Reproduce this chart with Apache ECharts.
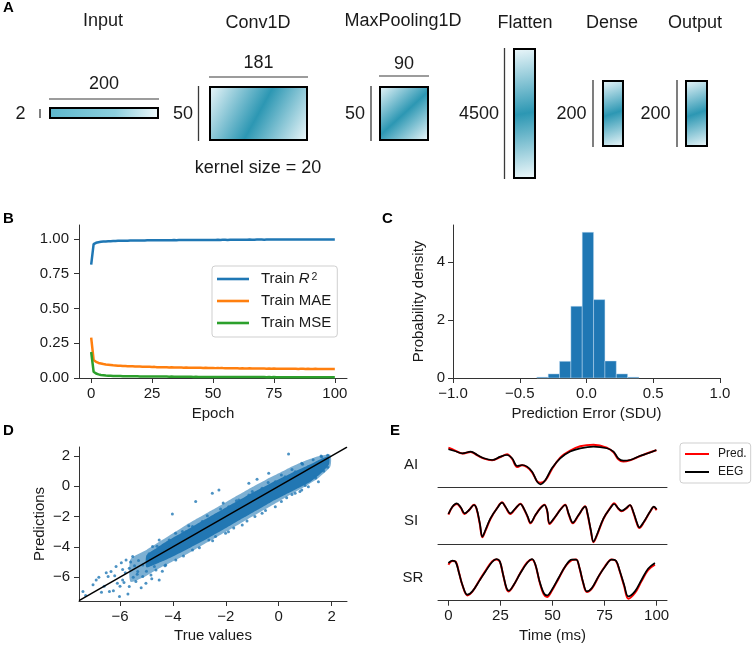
<!DOCTYPE html>
<html><head><meta charset="utf-8">
<script src="https://cdn.jsdelivr.net/npm/echarts@6/dist/echarts.min.js"></script>
<style>html,body{margin:0;padding:0;background:#fff}#c{width:754px;height:646px}</style>
</head><body><div id="c"></div>
<script>
// ---------------- DATA ----------------
// Panel A: network architecture
const layerNames = ['Input', 'Conv1D', 'MaxPooling1D', 'Flatten', 'Dense', 'Output'];
const layerWidthDims = ['200', '181', '90'];
const layerHeightDims = ['2', '50', '50', '4500', '200', '200'];
const kernelNote = 'kernel size = 20';

// Panel B: training curves (epoch = index 0..100)
const trainR2 = [
0.815,0.962,0.972,0.976,0.979,0.981,0.982,0.983,0.984,0.985,
0.985,0.986,0.986,0.987,0.987,0.987,0.988,0.988,0.988,0.989,
0.989,0.989,0.989,0.990,0.990,0.990,0.990,0.990,0.991,0.991,
0.991,0.991,0.991,0.991,0.992,0.991,0.992,0.992,0.992,0.992,
0.992,0.992,0.993,0.992,0.993,0.993,0.993,0.993,0.993,0.993,
0.993,0.993,0.994,0.993,0.994,0.994,0.993,0.994,0.994,0.994,
0.994,0.994,0.994,0.994,0.994,0.995,0.994,0.994,0.995,0.995,
0.995,0.994,0.995,0.995,0.995,0.995,0.995,0.995,0.995,0.995,
0.995,0.995,0.995,0.996,0.995,0.995,0.995,0.996,0.995,0.996,
0.995,0.996,0.996,0.995,0.996,0.996,0.996,0.996,0.996,0.996,0.996];
const trainMAE = [
0.290,0.130,0.116,0.108,0.104,0.100,0.097,0.095,0.093,0.091,
0.090,0.088,0.088,0.086,0.086,0.085,0.084,0.084,0.083,0.082,
0.082,0.081,0.081,0.080,0.080,0.079,0.080,0.078,0.078,0.078,
0.077,0.077,0.076,0.077,0.076,0.075,0.076,0.075,0.074,0.075,
0.074,0.074,0.073,0.074,0.073,0.073,0.072,0.073,0.072,0.072,
0.072,0.071,0.072,0.071,0.071,0.070,0.071,0.070,0.070,0.071,
0.070,0.069,0.070,0.069,0.069,0.070,0.068,0.069,0.068,0.069,
0.068,0.068,0.067,0.068,0.067,0.068,0.067,0.067,0.066,0.067,
0.067,0.066,0.066,0.067,0.066,0.065,0.066,0.066,0.065,0.066,
0.065,0.065,0.066,0.064,0.065,0.065,0.064,0.065,0.064,0.065,0.065];
const trainMSE = [
0.187,0.045,0.032,0.026,0.022,0.020,0.018,0.017,0.016,0.015,
0.015,0.014,0.014,0.013,0.013,0.013,0.012,0.012,0.012,0.012,
0.011,0.011,0.011,0.011,0.011,0.010,0.010,0.010,0.010,0.010,
0.010,0.010,0.009,0.010,0.009,0.009,0.009,0.009,0.009,0.009,
0.009,0.009,0.008,0.009,0.008,0.008,0.008,0.008,0.008,0.008,
0.008,0.008,0.008,0.008,0.008,0.007,0.008,0.007,0.007,0.007,
0.007,0.007,0.007,0.007,0.007,0.007,0.007,0.007,0.007,0.007,
0.007,0.007,0.006,0.007,0.006,0.007,0.006,0.006,0.006,0.006,
0.006,0.006,0.006,0.006,0.006,0.006,0.006,0.006,0.006,0.006,
0.006,0.006,0.006,0.006,0.006,0.006,0.006,0.006,0.006,0.006,0.006];
const epochTicks = [0, 25, 50, 75, 100];
const r2Ticks = [0, 0.25, 0.5, 0.75, 1.0];

// Panel C: histogram of prediction error
const binEdges = [-0.372,-0.287,-0.202,-0.117,-0.032,0.053,0.138,0.223,0.308,0.393];
const binDensity = [0.03,0.14,0.575,2.47,5.02,2.70,0.585,0.14,0.03];
const errTicks = [-1.0, -0.5, 0.0, 0.5, 1.0];
const densTicks = [0, 2, 4];

// Panel D: predictions vs true values (dense core band, sparser fringe, individual points)
const coreX      = [-5.0,-4.6,-4.2,-3.8,-3.3,-2.8,-2.3,-1.8,-1.3,-0.8,-0.3,0.2,0.7,1.2,1.6,1.9];
const coreUpper  = [-4.55,-4.05,-3.6,-3.2,-2.7,-2.2,-1.7,-1.2,-0.72,-0.25,0.2,0.62,1.05,1.45,1.8,1.95];
const coreLower  = [-5.35,-5.1,-4.8,-4.45,-4.0,-3.55,-3.05,-2.55,-2.05,-1.55,-1.05,-0.6,-0.15,0.3,0.85,1.45];
const fringeX     = [-5.6,-5.0,-4.5,-4.0,-3.5,-3.0,-2.5,-2.0,-1.5,-1.0,-0.5,0.0,0.5,1.0,1.5,1.95];
const fringeUpper = [-4.8,-4.2,-3.65,-3.1,-2.55,-2.05,-1.55,-1.05,-0.55,-0.05,0.42,0.85,1.3,1.68,1.98,2.08];
const fringeLower = [-6.3,-5.9,-5.4,-4.95,-4.5,-4.0,-3.5,-3.0,-2.5,-2.0,-1.5,-1.0,-0.5,0.0,0.55,1.3];
const scatterPts = [
[0.37,2.13],[-2.51,-0.46],[-3.14,-1.01],[-4.02,-1.83],[-2.26,-0.24],[-1.13,0.2],[-0.82,0.46],[-0.38,0.86],
[0.87,1.52],[1.62,1.95],[-7.4,-6.95],[-7.02,-6.5],[-6.4,-6.95],[-6.02,-7.28],[-6.34,-5.63],[-6.45,-5.95],
[-5.9,-6.18],[-5.65,-6.62],[-5.4,-6.29],[-6.15,-5.3],[-5.77,-4.86],[-5.65,-5.41],[-5.33,-5.63],[-5.14,-5.96],
[-5.02,-6.4],[-4.83,-5.85],[-5.14,-5.19],[-4.64,-5.52],[-5.52,-4.64],[-6.52,-5.7],[-6.9,-6.18],[-4.52,-6.18],
[-4.27,-5.19],[-3.89,-4.86],[0.87,-0.24],[1.37,0.63],[1.62,1.08],[-0.13,-1.35],[-0.63,-1.78],[-1.38,-2.55],
[-2.01,-3.1],[-2.64,-3.54],[-3.26,-4.2],[-2.39,-3.32],[0.62,-0.46],[1.12,-0.03],[-3.64,-2.99],[-3.26,-2.66],
[-2.89,-2.33],[-1.89,-1.35],[-1.51,-0.9],[-1.13,-0.57],[-0.63,-0.13],[-0.13,0.3],[0.24,0.63],[0.62,0.96],
[1.12,1.29],[-4.52,-3.54],[-4.77,-3.98],[-4.14,-3.54],[-4.3,-5.25],[-3.6,-4.6],[-3.0,-4.05],[-2.5,-3.6],
[-1.9,-3.0],[-1.2,-2.3],[-0.5,-1.6],[0.1,-1.0],[0.5,-0.55],[1.0,0.05],[1.4,0.55],[1.7,1.0],[1.85,1.25],
[-4.6,-3.95],[-3.9,-3.1],[-3.4,-2.6],[-2.7,-1.95],[-2.2,-1.5],[-1.6,-0.95],[-1.0,-0.35],[-0.4,0.25],
[0.1,0.75],[0.5,1.1],[0.9,1.45],[1.3,1.75],[1.6,2.0],[1.85,2.05],[-5.6,-5.0],[-5.9,-5.5],[-6.1,-6.4],
[-4.9,-4.45],[-3.5,-3.0],[-2.1,-1.1],[-1.7,-2.75],[-0.9,-2.0],[0.3,-0.75],[0.8,-0.35],[1.5,0.3],
[-6.2,-5.9],[-5.8,-5.7],[-5.5,-6.0],[-5.3,-4.9],[-5.0,-5.6],[-4.8,-6.1],[-4.6,-4.9],[-4.4,-5.6],
[-6.6,-6.6],[-6.8,-6.0],[-5.95,-5.05],[-5.45,-5.25],[-4.95,-4.75],[-6.25,-6.9],[-5.7,-7.1],[-4.7,-5.3],
[-5.2,-6.7],[-6.0,-6.6],[-7.3,-7.2],[-6.7,-7.0],[-5.85,-6.35],[-5.35,-5.8]];
const identityLine = [-7.55, 2.58];
const predTicks = [-6, -4, -2, 0, 2];

// Panel E: example traces, [time (ms), amplitude]
const timeTicks = [0, 25, 50, 75, 100];
const aiEEG = [[0,3.80],[3,3.63],[6.7,3.40],[10.7,3.57],[13.9,3.23],[17.1,2.90],[21,2.73],[25,3.07],[28.2,3.23],[30.6,2.90],[33,2.13],[35.4,2.23],[37.8,2.07],[40.2,1.57],[42.6,0.57],[44.2,0.30],[46.6,0.73],[49.7,1.90],[53.7,2.90],[58.5,3.57],[63.3,3.90],[69.7,4.07],[76.1,3.90],[79.3,3.57],[81.6,2.90],[84.0,2.67],[87.2,2.73],[91.9,3.13],[95.9,3.40],[99.9,3.73]];
const aiPred = [[0,3.97],[3,3.70],[6.7,3.37],[10.7,3.53],[13.9,3.20],[17.1,2.87],[21,2.70],[25,3.03],[28.2,3.30],[30.6,2.83],[33,2.03],[35.4,2.20],[37.8,2.00],[40.2,1.50],[42.6,0.60],[44.2,0.45],[46.6,0.70],[49.7,1.80],[53.7,2.97],[58.5,3.67],[63.3,4.10],[69.7,4.25],[76.1,3.97],[79.3,3.50],[81.6,2.80],[84.0,2.57],[87.2,2.70],[91.9,3.10],[95.9,3.43],[99.9,3.70]];
const siEEG = [[0,3.00],[1.9,3.73],[4.0,4.07],[5.9,3.67],[7.8,3.07],[9.9,3.40],[12.3,3.90],[13.5,3.57],[15.1,2.07],[16.3,0.73],[17.8,1.40],[20.2,2.57],[23.4,3.57],[25.8,4.13],[27.4,3.73],[29.8,3.07],[32.2,3.57],[34.6,4.00],[36.2,3.57],[38.1,2.73],[39.4,2.13],[41.8,2.90],[44.2,3.57],[46.1,3.90],[47.4,3.40],[48.6,2.07],[51.3,2.73],[53.7,3.40],[56.1,3.90],[57.7,3.07],[59.8,2.13],[62.5,2.90],[65.7,3.73],[66.8,3.07],[68.4,1.40],[69.7,0.23],[71.3,0.90],[74.5,2.57],[77.7,3.57],[79.6,4.00],[81.6,3.57],[83.2,3.33],[85.3,3.57],[87.2,3.90],[88.8,3.23],[90.4,2.23],[91.7,1.67],[93.9,2.23],[96.8,3.23],[98.7,3.73],[100,3.47]];
const siPred = [[0,2.93],[1.9,3.70],[4.0,4.00],[5.9,3.63],[7.8,3.00],[9.9,3.37],[12.3,3.93],[13.5,3.53],[15.1,1.97],[16.3,0.67],[17.8,1.33],[20.2,2.50],[23.4,3.60],[25.8,4.17],[27.4,3.70],[29.8,3.00],[32.2,3.53],[34.6,4.03],[36.2,3.53],[38.1,2.67],[39.4,2.07],[41.8,2.87],[44.2,3.60],[46.1,3.93],[47.4,3.33],[48.6,2.00],[51.3,2.70],[53.7,3.43],[56.1,3.93],[57.7,3.00],[59.8,2.07],[62.5,2.87],[65.7,3.77],[66.8,3.00],[68.4,1.33],[69.7,0.17],[71.3,0.83],[74.5,2.53],[77.7,3.60],[79.6,4.07],[81.6,3.53],[83.2,3.27],[85.3,3.53],[87.2,3.87],[88.8,3.17],[90.4,2.13],[91.7,1.60],[93.9,2.17],[96.8,3.20],[98.7,3.70],[100,3.37]];
const srEEG = [[0,3.77],[1.9,4.00],[3.5,3.87],[5.1,2.77],[6.7,1.60],[9.1,0.60],[11.5,0.93],[14.7,1.93],[17.8,2.93],[21.0,3.87],[23.1,4.17],[24.7,3.93],[26.3,2.60],[27.9,1.27],[29.0,1.00],[31.4,1.60],[34.6,2.77],[37.8,3.77],[40.2,4.17],[41.8,3.60],[43.8,1.93],[45.8,0.77],[47.4,0.53],[49.7,1.10],[52.9,2.27],[56.1,3.43],[59.3,4.10],[61.4,4.10],[63.0,3.27],[64.6,1.93],[66.5,0.93],[68.9,1.27],[72.1,2.43],[75.3,3.43],[78.4,4.10],[80.5,4.00],[82.4,2.93],[84.4,1.60],[86.4,0.43],[89.6,0.93],[92.8,2.10],[95.9,3.20],[99.2,3.77]];
const srPred = [[0,3.60],[1.9,3.97],[3.5,3.90],[5.1,2.80],[6.7,1.57],[9.1,0.53],[11.5,0.90],[14.7,1.97],[17.8,3.00],[21.0,3.93],[23.1,4.13],[24.7,3.90],[26.3,2.57],[27.9,1.20],[29.0,0.93],[31.4,1.57],[34.6,2.80],[37.8,3.83],[40.2,4.13],[41.8,3.57],[43.8,1.87],[45.8,0.63],[47.4,0.37],[49.7,1.00],[52.9,2.20],[56.1,3.40],[59.3,4.07],[61.4,4.13],[63.0,3.23],[64.6,1.87],[66.5,0.87],[68.9,1.20],[72.1,2.40],[75.3,3.47],[78.4,4.13],[80.5,3.97],[82.4,2.87],[84.4,1.47],[86.4,0.20],[89.6,0.77],[92.8,1.97],[95.9,3.07],[99.2,3.60]];
const rowNames = ['AI', 'SI', 'SR'];

// ---------------- LAYOUT / STYLE ----------------
const FONT = '"Liberation Sans", Arial, Helvetica, sans-serif';
const TXT = '#1a1a1a';
const SPINE = '#333';
const boxLayout = [[50,108,108,10],[210,87,97,53],[380,87,48,53],[514,49,21,129],[603,81,20,65],[686,81,21,65]];
const titleLayout = [[103,21],[258,23],[403,21],[525,23],[612,23],[695,23]];
const widthLineLayout = [[99,84.5],[77,63],[76,64.5]];
const heightLineLayout = [[40,109,118,20.5],[198.5,86,141,183],[371,86,141,355],[504.5,48,179,479],[593,80,147,571.5],[677,80,147,655.5]];

const minus = s => String(s).replace('-', '\u2212');

function xAxisCfg(grid, min, max, ticks, fmt, name, gap, show) {
  return {
    type: 'value', gridIndex: grid, min: min, max: max,
    axisLine: {show: true, onZero: false, lineStyle: {color: SPINE, width: 1}},
    axisTick: {show: show, length: 5, lineStyle: {color: SPINE, width: 1}, customValues: ticks},
    axisLabel: {show: show, customValues: ticks, formatter: fmt, fontSize: 15, fontFamily: FONT, color: TXT, margin: 8},
    splitLine: {show: false},
    name: name, nameLocation: 'middle', nameGap: gap,
    nameTextStyle: {fontSize: 15, fontFamily: FONT, color: TXT}
  };
}
function yAxisCfg(grid, min, max, ticks, fmt, name, gap, margin) {
  return {
    type: 'value', gridIndex: grid, min: min, max: max,
    axisLine: {show: true, onZero: false, lineStyle: {color: SPINE, width: 1}},
    axisTick: {show: true, length: 5, lineStyle: {color: SPINE, width: 1}, customValues: ticks},
    axisLabel: {customValues: ticks, formatter: fmt, fontSize: 15, fontFamily: FONT, color: TXT, margin: margin},
    splitLine: {show: false},
    name: name, nameLocation: 'middle', nameGap: gap,
    nameTextStyle: {fontSize: 15, fontFamily: FONT, color: TXT}
  };
}

// Panel A graphics
const graphics = [];
const gradFill = () => ({type: 'linear', x: 0, y: 0, x2: 1, y2: 1, colorStops: [
  {offset: 0, color: '#eef8fb'}, {offset: 0.5, color: '#2c97b3'}, {offset: 1, color: '#f2fafc'}]});
const inputFill = () => ({type: 'linear', x: 0, y: 0, x2: 1, y2: 1, colorStops: [
  {offset: 0, color: '#5db7cc'}, {offset: 0.6, color: '#8ccfdd'}, {offset: 1, color: '#f2fafc'}]});
layerNames.forEach((nm, i) => {
  const b = boxLayout[i];
  graphics.push({type: 'text', x: titleLayout[i][0], y: titleLayout[i][1],
    style: {text: nm, fontSize: 18, fontFamily: FONT, fill: TXT, align: 'center', verticalAlign: 'middle'}});
  graphics.push({type: 'rect', shape: {x: b[0], y: b[1], width: b[2], height: b[3]},
    style: {fill: i === 0 ? inputFill() : gradFill(), stroke: '#000', lineWidth: 2}});
  const h = heightLineLayout[i];
  graphics.push({type: 'line', shape: {x1: h[0], y1: h[1], x2: h[0], y2: h[2]}, style: {stroke: '#3a3a3a', lineWidth: 1.3}});
  graphics.push({type: 'text', x: h[3], y: 114,
    style: {text: layerHeightDims[i], fontSize: 18, fontFamily: FONT, fill: TXT, align: 'center', verticalAlign: 'middle'}});
  if (i < layerWidthDims.length) {
    const w = widthLineLayout[i];
    graphics.push({type: 'line', shape: {x1: b[0] - 1, y1: w[0], x2: b[0] + b[2] + 1, y2: w[0]}, style: {stroke: '#3a3a3a', lineWidth: 1.2}});
    graphics.push({type: 'text', x: b[0] + b[2] / 2, y: w[1],
      style: {text: layerWidthDims[i], fontSize: 18, fontFamily: FONT, fill: TXT, align: 'center', verticalAlign: 'middle'}});
  }
});
graphics.push({type: 'text', x: 258, y: 168.5,
  style: {text: kernelNote, fontSize: 18, fontFamily: FONT, fill: TXT, align: 'center', verticalAlign: 'middle'}});
[['A',3,8],['B',3,219],['C',382,219],['D',3,431],['E',390,431]].forEach(p => {
  graphics.push({type: 'text', x: p[1], y: p[2],
    style: {text: p[0], fontSize: 15, fontWeight: 'bold', fontFamily: FONT, fill: '#000', align: 'left', verticalAlign: 'middle'}});
});
[[411,465],[411,521],[413,578]].forEach((p, i) => {
  graphics.push({type: 'text', x: p[0], y: p[1],
    style: {text: rowNames[i], fontSize: 15, fontFamily: FONT, fill: TXT, align: 'center', verticalAlign: 'middle'}});
});

const bandRender = (xs, ups, los, fill) => (params, api) => {
  const up = xs.map((x, i) => api.coord([x, ups[i]]));
  const lo = xs.map((x, i) => api.coord([x, los[i]])).reverse();
  return {type: 'polygon', shape: {points: up.concat(lo), smooth: 0.2}, style: {fill: fill}};
};

const option = {
  animation: false,
  backgroundColor: '#fff',
  textStyle: {fontFamily: FONT},
  graphic: graphics,
  grid: [
    {left: 79, top: 225, width: 268, height: 153},
    {left: 453, top: 225, width: 267, height: 153},
    {left: 79, top: 447, width: 268, height: 154},
    {left: 438, top: 442.3, width: 229, height: 45},
    {left: 438, top: 499, width: 229, height: 45},
    {left: 438, top: 555.7, width: 229, height: 45}
  ],
  xAxis: [
    xAxisCfg(0, -5, 105, epochTicks, v => String(v), 'Epoch', 28, true),
    xAxisCfg(1, -1, 1, errTicks, v => minus(v.toFixed(1)), 'Prediction Error (SDU)', 28, true),
    xAxisCfg(2, -7.55, 2.58, predTicks, v => minus(v), 'True values', 27.5, true),
    xAxisCfg(3, -5, 105, timeTicks, v => String(v), '', 0, false),
    xAxisCfg(4, -5, 105, timeTicks, v => String(v), '', 0, false),
    xAxisCfg(5, -5, 105, timeTicks, v => String(v), 'Time (ms)', 28, true)
  ],
  yAxis: [
    yAxisCfg(0, 0, 1.1, r2Ticks, v => v.toFixed(2), '', 0, 10),
    yAxisCfg(1, 0, 5.27, densTicks, v => String(v), 'Probability density', 27, 8),
    yAxisCfg(2, -7.57, 2.59, predTicks, v => minus(v), 'Predictions', 32, 9),
    {type: 'value', gridIndex: 3, min: 0, max: 4.5, show: false},
    {type: 'value', gridIndex: 4, min: 0, max: 4.5, show: false},
    {type: 'value', gridIndex: 5, min: 0, max: 4.5, show: false}
  ],
  legend: [
    {
      data: ['Train R2', 'Train MAE', 'Train MSE'], orient: 'vertical', align: 'left',
      left: 212, top: 266, padding: [5.5, 6, 6.5, 5], itemGap: 7, itemWidth: 32, itemHeight: 2.6,
      icon: 'rect',
      selectedMode: false, backgroundColor: '#fff', borderColor: '#cfcfcf', borderWidth: 1, borderRadius: 3,
      formatter: n => n === 'Train R2' ? 'Train {i|R}{s|2}' : n,
      textStyle: {fontSize: 15, fontFamily: FONT, color: TXT, lineHeight: 15, padding: [0, 0, 0, 7],
        rich: {i: {fontSize: 15, fontFamily: FONT, fontStyle: 'italic', color: TXT, lineHeight: 15},
               s: {fontSize: 10.5, fontFamily: FONT, color: TXT, verticalAlign: 'top', lineHeight: 10, padding: [0, 0, 0, 2]}}}
    },
    {
      data: ['Pred.', 'EEG'], orient: 'vertical', align: 'left',
      left: 680, top: 443, padding: [4.5, 4, 4.5, 5], itemGap: 5, itemWidth: 24, itemHeight: 2,
      icon: 'rect',
      selectedMode: false, backgroundColor: '#fff', borderColor: '#cfcfcf', borderWidth: 1, borderRadius: 3,
      textStyle: {fontSize: 12, fontFamily: FONT, color: TXT, lineHeight: 13, padding: [0, 0, 0, 4]}
    }
  ],
  series: [
    {name: 'Train R2', type: 'line', xAxisIndex: 0, yAxisIndex: 0, symbol: 'none', color: '#1f77b4',
      lineStyle: {width: 2.5}, data: trainR2.map((v, i) => [i, v])},
    {name: 'Train MAE', type: 'line', xAxisIndex: 0, yAxisIndex: 0, symbol: 'none', color: '#ff7f0e',
      lineStyle: {width: 2.5}, data: trainMAE.map((v, i) => [i, v])},
    {name: 'Train MSE', type: 'line', xAxisIndex: 0, yAxisIndex: 0, symbol: 'none', color: '#2ca02c',
      lineStyle: {width: 2.5}, data: trainMSE.map((v, i) => [i, v])},
    {type: 'custom', xAxisIndex: 1, yAxisIndex: 1,
      data: binDensity.map((d, i) => [binEdges[i], binEdges[i + 1], d]),
      encode: {x: [0, 1], y: 2},
      renderItem: (params, api) => {
        const p0 = api.coord([api.value(0), 0]);
        const p1 = api.coord([api.value(1), api.value(2)]);
        return {type: 'rect', shape: {x: p0[0], y: p1[1], width: p1[0] - p0[0], height: p0[1] - p1[1]},
          style: {fill: '#1f77b4', stroke: 'rgba(200,225,245,0.55)', lineWidth: 0.8}};
      }},
    {type: 'custom', xAxisIndex: 2, yAxisIndex: 2, clip: true,
      data: [[fringeX[0], fringeLower[0]]],
      renderItem: bandRender(fringeX, fringeUpper, fringeLower, 'rgba(31,119,180,0.58)')},
    {type: 'custom', xAxisIndex: 2, yAxisIndex: 2, clip: true,
      data: [[coreX[0], coreLower[0]]],
      renderItem: bandRender(coreX, coreUpper, coreLower, '#2277b3')},
    {type: 'scatter', xAxisIndex: 2, yAxisIndex: 2, symbolSize: 3, clip: true,
      itemStyle: {color: '#1f77b4', opacity: 0.8}, data: scatterPts},
    {type: 'line', xAxisIndex: 2, yAxisIndex: 2, symbol: 'none', color: '#000',
      lineStyle: {width: 1.5}, data: [[identityLine[0], identityLine[0]], [identityLine[1], identityLine[1]]]},
    {name: 'Pred.', type: 'line', xAxisIndex: 3, yAxisIndex: 3, symbol: 'none', smooth: 0.35, color: '#ff0000', lineStyle: {width: 2}, data: aiPred},
    {name: 'EEG', type: 'line', xAxisIndex: 3, yAxisIndex: 3, symbol: 'none', smooth: 0.35, color: '#000', lineStyle: {width: 1.7}, data: aiEEG},
    {name: 'Pred.', type: 'line', xAxisIndex: 4, yAxisIndex: 4, symbol: 'none', smooth: 0.35, color: '#ff0000', lineStyle: {width: 2}, data: siPred},
    {name: 'EEG', type: 'line', xAxisIndex: 4, yAxisIndex: 4, symbol: 'none', smooth: 0.35, color: '#000', lineStyle: {width: 1.7}, data: siEEG},
    {name: 'Pred.', type: 'line', xAxisIndex: 5, yAxisIndex: 5, symbol: 'none', smooth: 0.35, color: '#ff0000', lineStyle: {width: 2}, data: srPred},
    {name: 'EEG', type: 'line', xAxisIndex: 5, yAxisIndex: 5, symbol: 'none', smooth: 0.35, color: '#000', lineStyle: {width: 1.7}, data: srEEG}
  ]
};
const chart = echarts.init(document.getElementById('c'), null, {renderer: 'canvas'});
chart.setOption(option);
</script></body></html>
